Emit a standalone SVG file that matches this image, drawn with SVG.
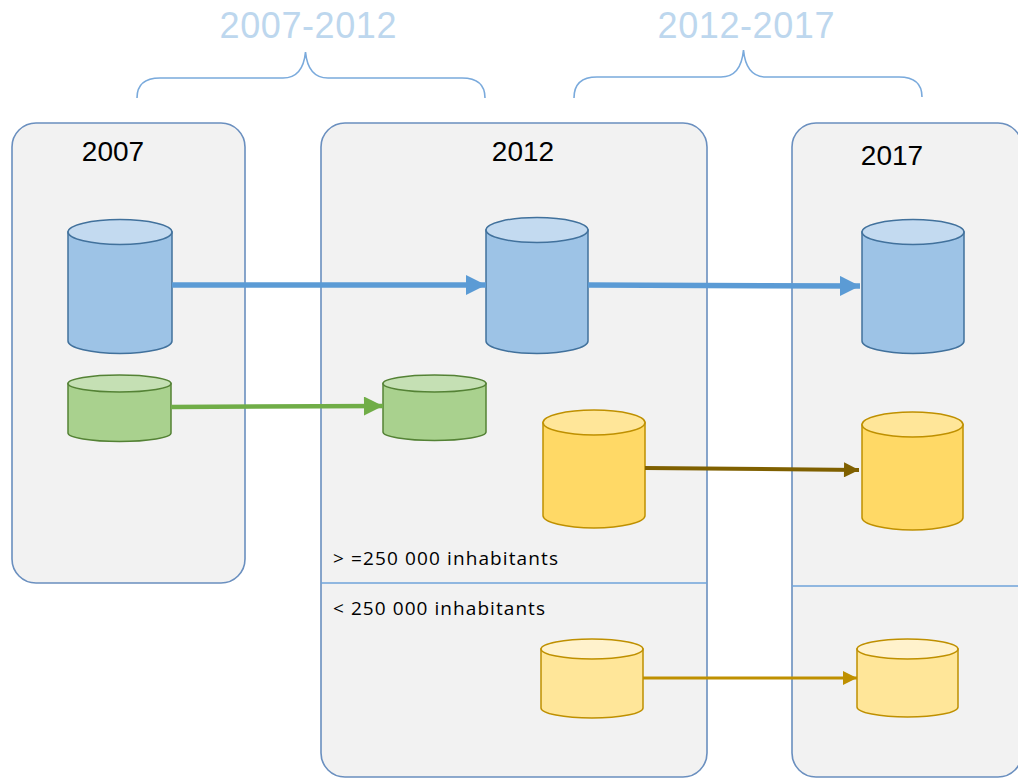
<svg xmlns="http://www.w3.org/2000/svg" width="1018" height="778" viewBox="0 0 1018 778">
<defs>
<style>
.box{fill:#f2f2f2;stroke:#6a8fbf;stroke-width:1.6}
.div{stroke:#6fa3da;stroke-width:1.5;fill:none}
.brace{fill:none;stroke:#7aaadc;stroke-width:1.6}
.period{font-family:"Liberation Sans",Arial,sans-serif;font-size:36px;fill:#bdd7ee}
.year{font-family:"Liberation Sans",Arial,sans-serif;font-size:28px;fill:#000}
.lbl{font-family:"Open Sans","Liberation Sans",Arial,sans-serif;font-size:19px;fill:#000}
.blue .body{fill:#9dc3e6;stroke:#41719c;stroke-width:1.5}
.blue .top{fill:#c3daf0;stroke:#41719c;stroke-width:1.5}
.green .body{fill:#a9d18e;stroke:#548235;stroke-width:1.5}
.green .top{fill:#c5e0b4;stroke:#548235;stroke-width:1.5}
.ylarge .body{fill:#ffd966;stroke:#bf9000;stroke-width:1.5}
.ylarge .top{fill:#ffe699;stroke:#bf9000;stroke-width:1.5}
.ysmall .body{fill:#ffe699;stroke:#bf9000;stroke-width:1.5}
.ysmall .top{fill:#fff2cc;stroke:#bf9000;stroke-width:1.5}
</style>
<marker id="mBlue" viewBox="0 0 10 10" refX="10" refY="5" markerUnits="userSpaceOnUse" markerWidth="20" markerHeight="20" orient="auto"><path d="M0,0 L10,5 L0,10 Z" fill="#5b9bd5"/></marker>
<marker id="mGreen" viewBox="0 0 10 10" refX="10" refY="5" markerUnits="userSpaceOnUse" markerWidth="20" markerHeight="19" orient="auto"><path d="M0,0 L10,5 L0,10 Z" fill="#70ad47"/></marker>
<marker id="mBrown" viewBox="0 0 10 10" refX="10" refY="5" markerUnits="userSpaceOnUse" markerWidth="16" markerHeight="15" orient="auto"><path d="M0,0 L10,5 L0,10 Z" fill="#7f6000"/></marker>
<marker id="mGold" viewBox="0 0 10 10" refX="10" refY="5" markerUnits="userSpaceOnUse" markerWidth="15" markerHeight="14" orient="auto"><path d="M0,0 L10,5 L0,10 Z" fill="#bf9000"/></marker>
</defs>
<rect width="1018" height="778" fill="#ffffff"/>

<g id="periods">
<text class="period" x="308" y="38" text-anchor="middle" textLength="177">2007-2012</text>
<path class="brace" d="M137,98 Q137,78 160,78 L283,78 Q303,78 305.5,52 Q308,78 328,78 L462,78 Q485,78 485,98"/>
<text class="period" x="746" y="38" text-anchor="middle" textLength="177">2012-2017</text>
<path class="brace" d="M574,98 Q574,77 597,77 L721,77 Q741,77 743.5,50 Q746,77 766,77 L899,77 Q922,77 922,97"/>
</g>

<g id="box2007">
<rect class="box" x="12" y="123" width="233" height="460" rx="24" ry="24"/>
<text class="year" x="113" y="161" text-anchor="middle">2007</text>
</g>

<g id="box2012">
<rect class="box" x="321" y="123" width="386" height="654" rx="24" ry="24"/>
<line class="div" x1="321" y1="583" x2="707" y2="583"/>
<text class="year" x="523" y="161" text-anchor="middle">2012</text>
<text class="lbl" x="333" y="565" textLength="225">&gt; =250 000 inhabitants</text>
<text class="lbl" x="333" y="615" textLength="212">&lt; 250 000 inhabitants</text>
</g>

<g id="box2017">
<rect class="box" x="792" y="123" width="230" height="654" rx="24" ry="24"/>
<line class="div" x1="792" y1="586" x2="1022" y2="586"/>
<text class="year" x="892" y="165" text-anchor="middle">2017</text>
</g>

<g id="db-blue-2007" class="blue">
<path class="body" d="M68,232 L68,341 A52,12.5 0 0 0 172,341 L172,232 Z"/>
<ellipse class="top" cx="120" cy="232" rx="52" ry="12.5"/>
</g>
<g id="db-blue-2012" class="blue">
<path class="body" d="M486,230 L486,341 A51,12.5 0 0 0 588,341 L588,230 Z"/>
<ellipse class="top" cx="537" cy="230" rx="51" ry="12.5"/>
</g>
<g id="db-blue-2017" class="blue">
<path class="body" d="M862,232 L862,341 A51,12.5 0 0 0 964,341 L964,232 Z"/>
<ellipse class="top" cx="913" cy="232" rx="51" ry="12.5"/>
</g>

<g id="db-green-2007" class="green">
<path class="body" d="M68,383.5 L68,433 A51.5,8.5 0 0 0 171,433 L171,383.5 Z"/>
<ellipse class="top" cx="119.5" cy="383.5" rx="51.5" ry="8.5"/>
</g>
<g id="db-green-2012" class="green">
<path class="body" d="M383,383.5 L383,432 A51.5,8.5 0 0 0 486,432 L486,383.5 Z"/>
<ellipse class="top" cx="434.5" cy="383.5" rx="51.5" ry="8.5"/>
</g>

<g id="db-ylarge-2012" class="ylarge">
<path class="body" d="M543,422.5 L543,515.5 A51,12.5 0 0 0 645,515.5 L645,422.5 Z"/>
<ellipse class="top" cx="594" cy="422.5" rx="51" ry="12.5"/>
</g>
<g id="db-ylarge-2017" class="ylarge">
<path class="body" d="M862,424.5 L862,517.5 A50.5,12.5 0 0 0 963,517.5 L963,424.5 Z"/>
<ellipse class="top" cx="912.5" cy="424.5" rx="50.5" ry="12.5"/>
</g>

<g id="db-ysmall-2012" class="ysmall">
<path class="body" d="M541,649 L541,708 A51,10 0 0 0 643,708 L643,649 Z"/>
<ellipse class="top" cx="592" cy="649" rx="51" ry="10"/>
</g>
<g id="db-ysmall-2017" class="ysmall">
<path class="body" d="M857,649 L857,707 A50.5,10 0 0 0 958,707 L958,649 Z"/>
<ellipse class="top" cx="907.5" cy="649" rx="50.5" ry="10"/>
</g>

<g id="connectors" fill="none">
<line x1="172" y1="285" x2="486" y2="285" stroke="#5b9bd5" stroke-width="5.5" marker-end="url(#mBlue)"/>
<line x1="588" y1="285" x2="860" y2="286" stroke="#5b9bd5" stroke-width="5.5" marker-end="url(#mBlue)"/>
<line x1="171" y1="407" x2="383" y2="406" stroke="#70ad47" stroke-width="4.5" marker-end="url(#mGreen)"/>
<line x1="645" y1="468" x2="859" y2="470" stroke="#7f6000" stroke-width="4" marker-end="url(#mBrown)"/>
<line x1="643" y1="678" x2="857" y2="678" stroke="#bf9000" stroke-width="3" marker-end="url(#mGold)"/>
</g>
</svg>
